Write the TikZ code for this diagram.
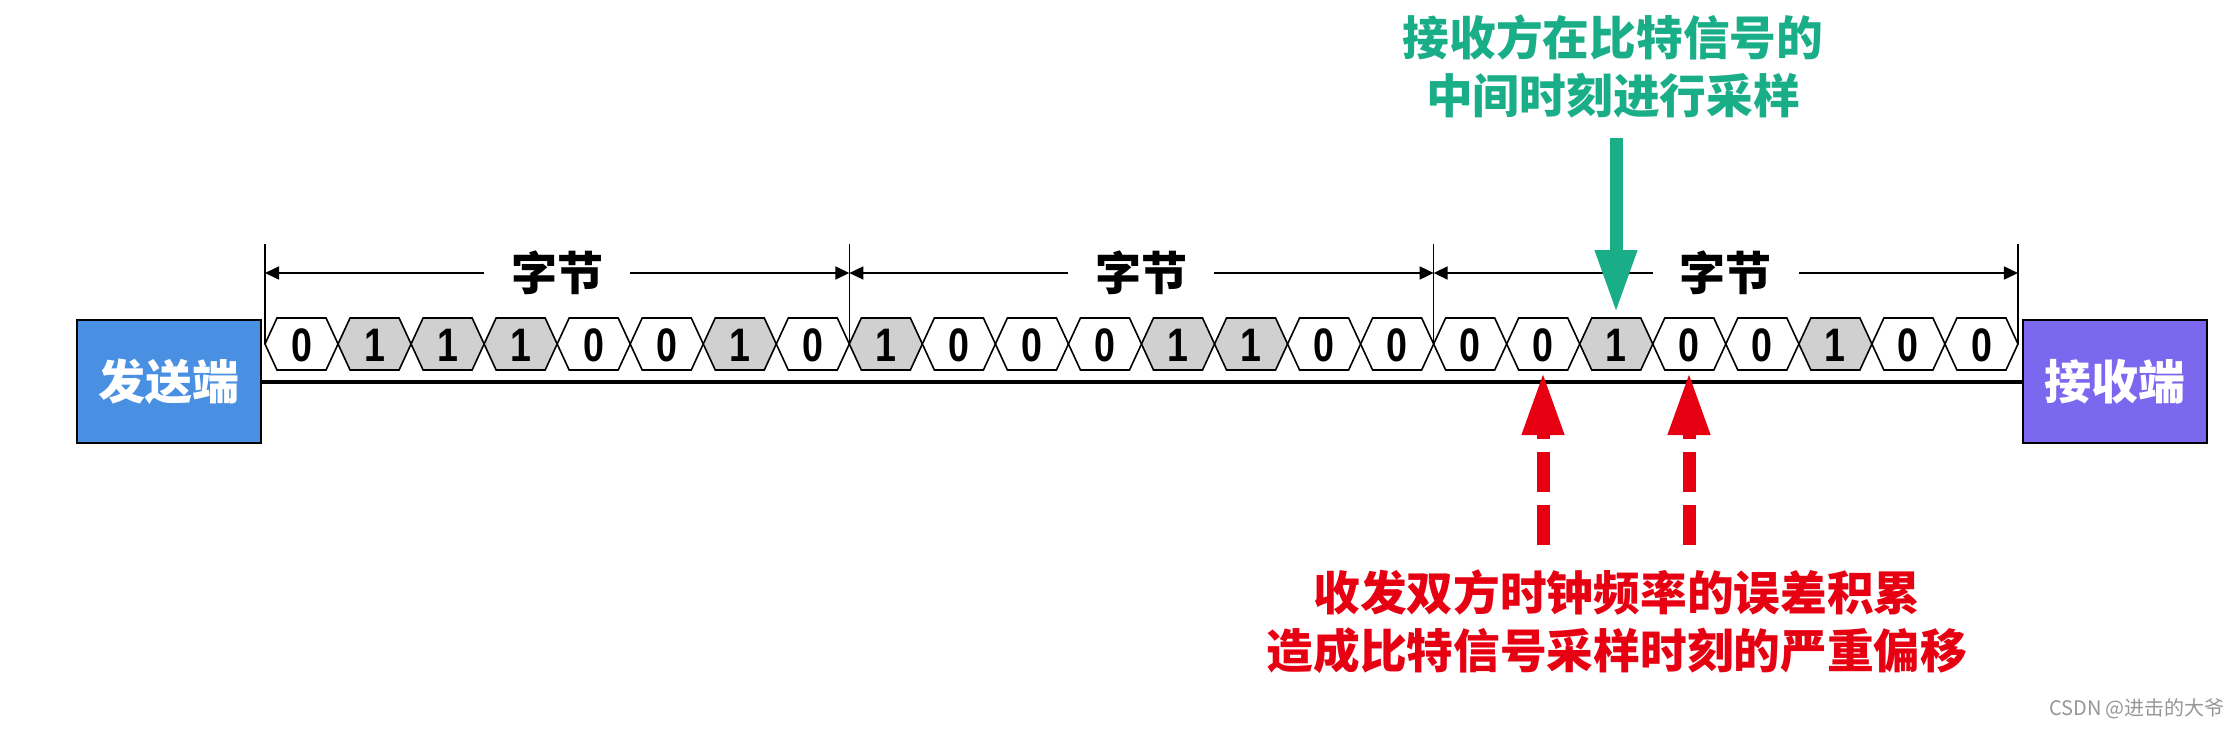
\documentclass[tikz,border=0pt]{standalone}
\usepackage{fontspec}
\usetikzlibrary{arrows.meta}
\newfontfamily\cjk{Noto Sans CJK SC}
\newfontfamily\digitfont[FakeStretch=0.8]{Liberation Sans}
\definecolor{sendblue}{RGB}{74,144,226}
\definecolor{recvpurple}{RGB}{123,104,238}
\definecolor{bitgray}{RGB}{208,208,208}
\definecolor{notegreen}{RGB}{26,174,136}
\definecolor{notered}{RGB}{230,0,18}
\definecolor{wmgray}{RGB}{150,150,150}
\tikzset{
  hexln/.style={draw=black, line width=1.6pt, line join=miter},
  bitlbl/.style={font=\digitfont\bfseries\fontsize{47}{47}\selectfont, inner sep=0pt},
  endbox/.style={draw=black, line width=2.5pt, minimum width=184pt, minimum height=123pt,
    font=\cjk\bfseries\fontsize{47}{47}\selectfont, text=white, inner sep=0pt},
  dimln/.style={line width=1.6pt, {Triangle[length=14pt,width=13pt]}-{Triangle[length=14pt,width=13pt]}},
  bndln/.style={line width=1.6pt},
  bytelbl/.style={fill=white, font=\cjk\bfseries\fontsize{46}{46}\selectfont, inner xsep=27pt, inner ysep=0pt},
  notetxt/.style={font=\cjk\bfseries\fontsize{46.7}{58}\selectfont, align=center, inner sep=0pt},
  bigarrow/.style={line width=13pt, -{Triangle[length=63pt,width=39pt]}},
}
\begin{document}
\begin{tikzpicture}[x=1pt,y=-1pt]
\useasboundingbox (0,0) rectangle (2234,728);
% end boxes
\node[endbox, fill=sendblue] (sender) at (169,381.5) {发送端};
\node[endbox, fill=recvpurple] (receiver) at (2115,381.5) {接收端};
% line
\draw[line width=4pt] (sender.east) -- (receiver.west);
% bits
\foreach \b [count=\i from 0] in {0,1,1,1,0,0,1,0,1,0,0,0,1,1,0,0,0,0,1,0,0,1,0,0} {
  \pgfmathsetmacro\xl{265+\i*73.04}
  \pgfmathsetmacro\xr{\xl+73.04}
  \ifnum\b=1 \def\fc{bitgray}\else\def\fc{white}\fi
  \filldraw[hexln, fill=\fc] (\xl,344) -- (\xl+12,318) -- (\xr-12,318) -- (\xr,344) -- (\xr-12,370) -- (\xl+12,370) -- cycle;
  \node[bitlbl] (b\i) at ({(\xl+\xr)/2},345) {\b};
}
% byte boundaries
\foreach \k in {0,1,2,3} {
  \coordinate (t\k) at (265+\k*584.32,244);
  \coordinate (m\k) at (265+\k*584.32,344);
  \coordinate (d\k) at (265+\k*584.32,273);
  \draw[bndln] (t\k) -- (m\k);
}
\draw[dimln] (d0) -- node[bytelbl] (byte1) {字节} (d1);
\draw[dimln] (d1) -- node[bytelbl] (byte2) {字节} (d2);
\draw[dimln] (d2) -- node[bytelbl] (byte3) {字节} (d3);
% green note
\node[notetxt, text=notegreen] (gnote) at (1613,66) {接收方在比特信号的\\中间时刻进行采样};
\coordinate (gs) at (1616,138);
\coordinate (gt) at (1616,313);
\draw[bigarrow, notegreen] (gs) -- (gt);
% red note
\node[notetxt, text=notered] (rnote) at (1617,622) {收发双方时钟频率的误差积累\\造成比特信号采样时刻的严重偏移};
\coordinate (r1s) at (1543,545);
\coordinate (r1t) at (1543,372);
\coordinate (r2s) at (1689,545);
\coordinate (r2t) at (1689,372);
\draw[bigarrow, notered, dash pattern=on 40pt off 13pt] (r1s) -- (r1t);
\draw[bigarrow, notered, dash pattern=on 40pt off 13pt] (r2s) -- (r2t);
% watermark
\node[font=\cjk\fontsize{20}{20}\selectfont, text=wmgray, inner sep=0pt] (wm) at (2137,709) {CSDN @进击的大爷};
\end{tikzpicture}
\end{document}
